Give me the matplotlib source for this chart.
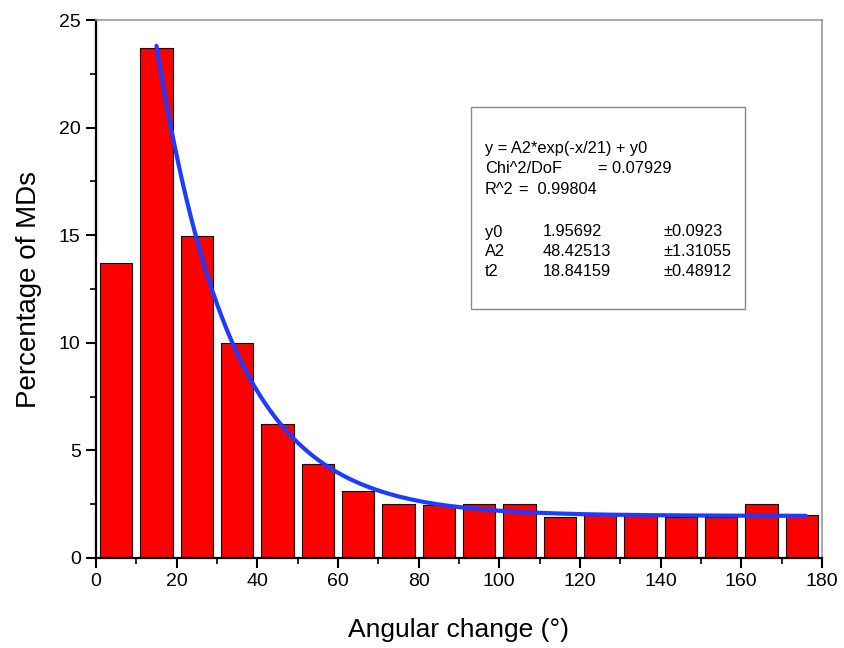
import numpy as np
import matplotlib
matplotlib.use('Agg')
import matplotlib.pyplot as plt
from matplotlib.ticker import MultipleLocator
from matplotlib.patches import Rectangle

plt.rcParams['font.family'] = ['Liberation Sans', 'DejaVu Sans']

# histogram of angular change (bin centres, % of MDs)
bin_centres = [5, 15, 25, 35, 45, 55, 65, 75, 85, 95, 105, 115, 125, 135, 145, 155, 165, 175]
percent = [13.7, 23.7, 14.95, 10.0, 6.23, 4.37, 3.11, 2.5, 2.46, 2.5, 2.5, 1.89, 2.0, 2.0, 1.9, 1.9, 2.5, 2.0]

# fit parameters shown in the box
y0 = 1.95692
A2 = 48.42513
t2 = 18.84159
fit_start, fit_end = 15, 176

fig = plt.figure(figsize=(8.44, 6.48), dpi=100)
ax = fig.add_axes([0.1137, 0.1389, 0.8602, 0.8302])

ax.bar(bin_centres, percent, width=8, color='#FF0000', edgecolor='black', linewidth=0.8, zorder=2)

xf = np.linspace(fit_start, fit_end, 300)
ax.plot(xf, A2 * np.exp(-xf / t2) + y0, color='#1E3CFF', linewidth=3, zorder=3,
        solid_capstyle='round')

ax.set_xlim(0, 180)
ax.set_ylim(0, 25)
ax.xaxis.set_major_locator(MultipleLocator(20))
ax.xaxis.set_minor_locator(MultipleLocator(10))
ax.yaxis.set_major_locator(MultipleLocator(5))
ax.yaxis.set_minor_locator(MultipleLocator(2.5))
ax.tick_params(which='major', direction='out', length=7, width=1.5, labelsize=14, color='black', pad=4)
ax.tick_params(which='minor', direction='out', length=4, width=1.2, color='black')
ax.tick_params(top=False, right=False)

for s in ['left', 'bottom']:
    ax.spines[s].set_linewidth(1.6)
for s in ['top', 'right']:
    ax.spines[s].set_color('#999999')
    ax.spines[s].set_linewidth(1.2)

ax.set_xlabel('Angular change (\u00b0)', fontsize=19, labelpad=20)
ax.set_ylabel('Percentage of MDs', fontsize=20, labelpad=12)

# fit results box (figure pixel positions converted to fractions)
W, H = 844, 648
def fx(px):
    return px / W
def fy(py):
    return 1 - py / H

fig.patches.append(Rectangle((fx(471), fy(309)), fx(745) - fx(471), fy(107) - fy(309),
                             transform=fig.transFigure, facecolor='white',
                             edgecolor='#888888', linewidth=1.0, zorder=5))
fs = 11.8
tk = dict(fontsize=fs, va='center', ha='left', zorder=6)
fig.text(fx(485), fy(149), 'y = A2*exp(-x/21) + y0', **tk)
fig.text(fx(485), fy(169), 'Chi^2/DoF', **tk)
fig.text(fx(598), fy(169), '= 0.07929', **tk)
fig.text(fx(485), fy(190), 'R^2', **tk)
fig.text(fx(519), fy(190), '=  0.99804', **tk)
rows = [('y0', '1.95692', '\u00b10.0923'),
        ('A2', '48.42513', '\u00b11.31055'),
        ('t2', '18.84159', '\u00b10.48912')]
for (name, val, err), py in zip(rows, [232, 252, 272]):
    fig.text(fx(485), fy(py), name, **tk)
    fig.text(fx(543), fy(py), val, **tk)
    fig.text(fx(663), fy(py), err, **tk)

fig.savefig('out.png', dpi=100)
